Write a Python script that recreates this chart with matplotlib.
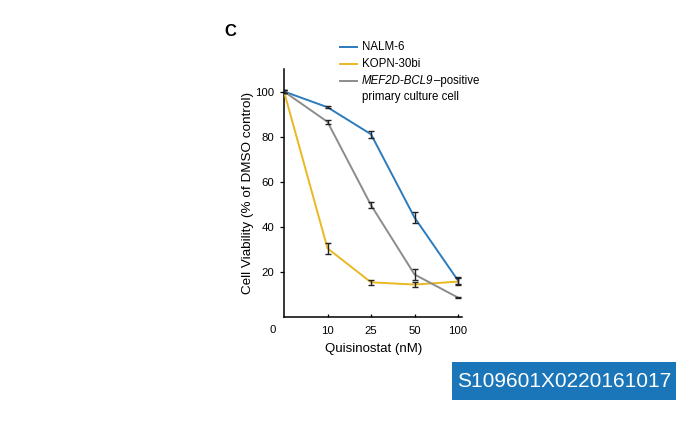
import matplotlib
matplotlib.use("Agg")
import matplotlib.pyplot as plt
from matplotlib.lines import Line2D
from matplotlib.patches import Rectangle

plt.rcParams['font.family'] = ['Liberation Sans', 'DejaVu Sans']

categories = ['0', '10', '25', '50', '100']
nalm6 = [100, 93, 81, 44, 16]
nalm6_err = [0.5, 0.5, 1.5, 2.5, 1.5]
kopn = [100, 30.3, 15.2, 14.2, 15.5]
kopn_err = [0.5, 2.5, 1.0, 1.0, 1.5]
mef2d = [100, 86.5, 49.5, 18.7, 8.4]
mef2d_err = [0.5, 0.8, 1.2, 2.5, 0.3]
y_ticks = [20, 40, 60, 80, 100]

W, H = 700, 448
fig = plt.figure(figsize=(7, 4.48), dpi=100)

x0, x1 = 284, 284 + 4.1 * 43.5
y0, y1 = 316.5, 316.5 - 247.5
ax = fig.add_axes([x0 / W, 1 - y0 / H, (x1 - x0) / W, (y0 - y1) / H])
ax.patch.set_alpha(0)

xs = list(range(len(categories)))
series = [(nalm6, nalm6_err, '#2b7bbd'), (kopn, kopn_err, '#e9b822'), (mef2d, mef2d_err, '#8c8c8c')]
for vals, errs, col in series:
    ax.plot(xs, vals, color=col, lw=1.4, zorder=3)
    ax.errorbar(xs, vals, yerr=errs, fmt='none', ecolor='#222222', elinewidth=1.0,
                capsize=2.5, capthick=1.0, zorder=4)

ax.set_xlim(0, 4.1)
ax.set_ylim(0, 110)
ax.spines['top'].set_visible(False)
ax.spines['right'].set_visible(False)
ax.spines['left'].set_linewidth(1.1)
ax.spines['bottom'].set_linewidth(1.1)
ax.set_yticks(y_ticks)
ax.set_yticklabels([str(v) for v in y_ticks], fontsize=8.2)
ax.tick_params(axis='y', direction='out', length=3, width=0.9, pad=4)
ax.set_xticks(xs[1:])
ax.set_xticklabels(categories[1:], fontsize=8.2)
ax.tick_params(axis='x', direction='in', length=2, width=0.9, pad=7)
ax.text(-0.27, -0.035, categories[0], transform=ax.get_xaxis_transform(), fontsize=8.2,
        ha='center', va='top')
ax.set_xlabel('Quisinostat (nM)', fontsize=9.5, labelpad=5)
ax.set_ylabel('Cell Viability (% of DMSO control)', fontsize=9.7, labelpad=1)

# panel letter
fig.text(230 / W, 1 - 32 / H, 'C', fontsize=12, fontweight='bold', ha='center', va='center')

# legend
fs_leg = 8.3
leg = [('NALM-6', '#2b7bbd', 47), ('KOPN-30bi', '#e9b822', 64)]
for label, col, py in leg:
    fig.add_artist(Line2D([340 / W, 357 / W], [1 - py / H, 1 - py / H], color=col, lw=1.4))
    fig.text(362 / W, 1 - py / H, label, fontsize=fs_leg, va='center', ha='left')
fig.add_artist(Line2D([340 / W, 357 / W], [1 - 81 / H, 1 - 81 / H], color='#8c8c8c', lw=1.4))
t_it = fig.text(362 / W, 1 - 81 / H, 'MEF2D-BCL9', fontsize=fs_leg, va='center', ha='left',
                style='italic')
fig.canvas.draw()
bb = t_it.get_window_extent(renderer=fig.canvas.get_renderer())
fig.text(bb.x1 / W + 0.5 / W, 1 - 81 / H, '–positive', fontsize=fs_leg, va='center', ha='left')
fig.text(362 / W, 1 - 97 / H, 'primary culture cell', fontsize=fs_leg, va='center', ha='left')

# id box
fig.add_artist(Rectangle((452 / W, 1 - 400 / H), 224 / W, 38 / H, transform=fig.transFigure,
                         facecolor='#1a76b8', edgecolor='none'))
fig.text(564 / W, 1 - 381 / H, 'S109601X0220161017', fontsize=15, color='white',
         ha='center', va='center')

fig.savefig('out.png', dpi=100)
